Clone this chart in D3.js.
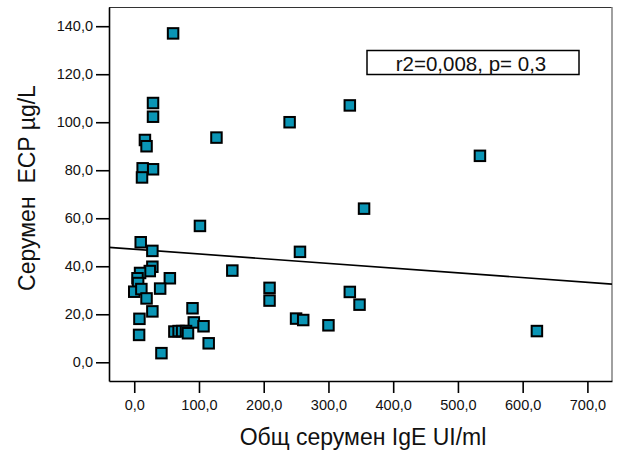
<!DOCTYPE html>
<html>
<head>
<meta charset="utf-8">
<script src="https://cdn.jsdelivr.net/npm/d3@7/dist/d3.min.js"></script>
<style>
  body { margin: 0; background: #fff; }
  svg { display: block; }
  text { font-family: "Liberation Sans", Arial, sans-serif; fill: #111; }
</style>
</head>
<body>
<svg id="chart" width="621" height="450"></svg>
<script>
// Total serum IgE (UI/ml) for each patient
const igeValues = [60, 29, 29, 16.5, 19, 127, 29, 13, 12, 240, 333, 534, 355, 101.5,
  10, 28, 256, 28, 24, 9, 5, 6, 55, 151.5, 40, 0, 11, 19, 28, 8, 7.5, 42, 90, 92, 107,
  115, 62, 68.5, 74, 80, 83, 209, 209, 333, 348, 250, 261, 300, 622];
// Serum ECP (µg/L) for the same patients
const ecpValues = [137, 108, 102.3, 92.6, 90, 93.6, 80.4, 80.8, 77, 100, 107, 86, 64, 56.8,
  50, 46.4, 46, 39.8, 38, 37.2, 35, 33, 35, 38.2, 30.7, 29.4, 30.5, 26.6, 21.2, 18.1, 11.4, 3.8,
  22.5, 16.6, 15, 7.9, 12.8, 13, 13, 13, 12.1, 31, 25.7, 29.3, 24, 18.2, 17.6, 15.4, 13];

// Linear fit ECP = intercept + slope * IgE
const fitIntercept = 47.1;
const fitSlope = -0.0197;

const xTicks = [0, 100, 200, 300, 400, 500, 600, 700];
const yTicks = [0, 20, 40, 60, 80, 100, 120, 140];
const xDomain = [-39, 738];
const yDomain = [-7.8, 148];

const xTitle = "Общ серумен IgE UI/ml";
const yTitle = "Серумен  ECP µg/L";
const fitLabel = "r2=0,008, p= 0,3";

const svg = d3.select("#chart");
const plot = { left: 109, right: 612, top: 7, bottom: 381 };

const x = d3.scaleLinear().domain(xDomain).range([plot.left, plot.right]);
const y = d3.scaleLinear().domain(yDomain).range([plot.bottom, plot.top]);

const fmt = d => d.toFixed(1).replace(".", ",");

// top and right edges of the frame
svg.append("line")
  .attr("x1", plot.left).attr("x2", plot.right)
  .attr("y1", plot.top + 0.5).attr("y2", plot.top + 0.5)
  .attr("stroke", "#333").attr("stroke-width", 1.2);
svg.append("line")
  .attr("x1", plot.right).attr("x2", plot.right)
  .attr("y1", plot.top).attr("y2", plot.bottom)
  .attr("stroke", "#808080").attr("stroke-width", 1.5);

// axes
const xAxis = svg.append("g")
  .attr("transform", `translate(0,${plot.bottom})`)
  .call(d3.axisBottom(x).tickValues(xTicks).tickFormat(fmt).tickSize(12).tickPadding(7).tickSizeOuter(0));
const yAxis = svg.append("g")
  .attr("transform", `translate(${plot.left},0)`)
  .call(d3.axisLeft(y).tickValues(yTicks).tickFormat(fmt).tickSize(13).tickPadding(3).tickSizeOuter(0));

[xAxis, yAxis].forEach(g => {
  g.select(".domain").attr("stroke", "#000").attr("stroke-width", 1.6);
  g.selectAll(".tick line").attr("stroke", "#000").attr("stroke-width", 1.6);
  g.selectAll(".tick text")
    .attr("fill", "#111")
    .style("font-family", '"Liberation Sans", Arial, sans-serif')
    .style("font-size", "14.5px");
});

// regression line, clipped to the plot area
svg.append("clipPath").attr("id", "plotClip")
  .append("rect")
  .attr("x", plot.left).attr("y", plot.top)
  .attr("width", plot.right - plot.left).attr("height", plot.bottom - plot.top);

svg.append("line")
  .attr("clip-path", "url(#plotClip)")
  .attr("x1", x(xDomain[0])).attr("y1", y(fitIntercept + fitSlope * xDomain[0]))
  .attr("x2", x(xDomain[1])).attr("y2", y(fitIntercept + fitSlope * xDomain[1]))
  .attr("stroke", "#000").attr("stroke-width", 1.6);

// patient markers
const points = igeValues.map((v, i) => ({ ige: v, ecp: ecpValues[i] }));
const side = 10.5;
svg.append("g").selectAll("rect")
  .data(points)
  .join("rect")
  .attr("x", d => x(d.ige) - side / 2)
  .attr("y", d => y(d.ecp) - side / 2)
  .attr("width", side).attr("height", side)
  .attr("fill", "#0a95b5")
  .attr("stroke", "#000")
  .attr("stroke-width", 2);

// fit statistics box
svg.append("rect")
  .attr("x", 367).attr("y", 50.5)
  .attr("width", 212).attr("height", 24)
  .attr("fill", "#fff").attr("stroke", "#000").attr("stroke-width", 1.5);
svg.append("text")
  .attr("x", 471).attr("y", 71)
  .attr("text-anchor", "middle")
  .style("font-size", "20.5px")
  .text(fitLabel);

// axis titles
svg.append("text")
  .attr("x", 363).attr("y", 445)
  .attr("text-anchor", "middle")
  .style("font-size", "23px")
  .text(xTitle);
svg.append("text")
  .attr("transform", "translate(35,188) rotate(-90)")
  .attr("text-anchor", "middle")
  .style("font-size", "23px")
  .style("white-space", "pre")
  .text(yTitle);
</script>
</body>
</html>
